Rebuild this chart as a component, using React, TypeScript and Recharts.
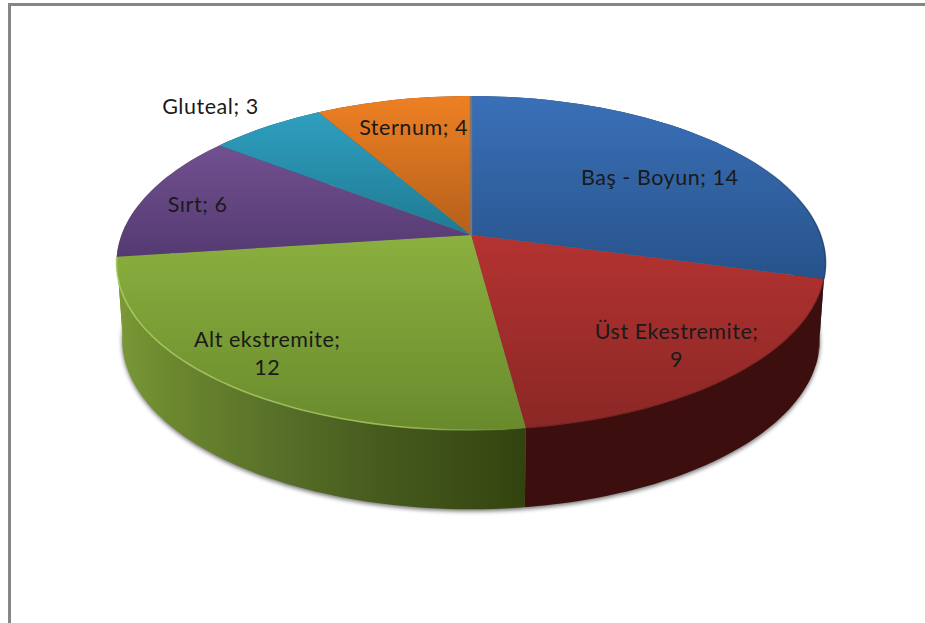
import React from 'react';
import { PieChart, Pie } from 'recharts';

const categories = ['Baş - Boyun', 'Üst Ekestremite', 'Alt ekstremite', 'Sırt', 'Gluteal', 'Sternum'];
const values = [14, 9, 12, 6, 3, 4];

// vertical gradient on the top faces
const topLight = ['#3a70b8', '#b43331', '#8bb03f', '#71508f', '#2f9fc0', '#ee8023'];
const topDark = ['#27538b', '#8a2725', '#698a2c', '#553a72', '#1f7a92', '#b4601b'];
// the purple side only peeks out at the far left, next to the green one
const sideColors = ['#1d3a5e', '#3c0f0e', '#33430f', '#7a9936', '#14505f', '#7a4012'];

// label text is split where it wraps inside the slice
const labelLines: string[][] = [
  ['Baş - Boyun; 14'],
  ['Üst Ekestremite;', '9'],
  ['Alt ekstremite;', '12'],
  ['Sırt; 6'],
  ['Gluteal; 3'],
  ['Sternum; 4'],
];
const labelNudge = [
  [32, -2],
  [56, 31],
  [-65, 34],
  [-76, -6],
  [-132, -61],
  [-8, -22],
];

const slices = categories.map((name, i) => ({ name, value: values[i] }));

const PIE_CX = 471;
const PIE_CY = 235;
const PIE_R = 349.5;
const TILT = 0.4644; // vertical squash of the disc
const PERSPECTIVE = 0.168; // back of the disc looks smaller than the front
const BOTTOM_SCALE = 0.984;
const BOTTOM_SQUASH = 165 / 344;
const BOTTOM_DROP = 76;

const RAD = Math.PI / 180;

// project a point of the flat disc (math degrees, radius) onto the tilted top face
const projectTop = (cx: number, cy: number, radius: number, deg: number, frac = 1) => {
  const u = frac * Math.cos(deg * RAD);
  const v = frac * Math.sin(deg * RAD);
  const w = 1 + PERSPECTIVE * v;
  return [cx + (radius * u) / w, cy - (radius * TILT * v) / w];
};

const projectBottom = (cx: number, cy: number, radius: number, deg: number) => {
  const u = Math.cos(deg * RAD);
  const v = Math.sin(deg * RAD);
  const w = 1 + PERSPECTIVE * v;
  const r = radius * BOTTOM_SCALE;
  return [cx + (r * u) / w, cy + BOTTOM_DROP - (r * BOTTOM_SQUASH * v) / w];
};

const arcPoints = (
  project: (cx: number, cy: number, r: number, d: number) => number[],
  cx: number,
  cy: number,
  r: number,
  from: number,
  to: number,
) => {
  const steps = Math.max(2, Math.ceil(Math.abs(to - from) / 1.5));
  const pts: number[][] = [];
  for (let i = 0; i <= steps; i++) pts.push(project(cx, cy, r, from + ((to - from) * i) / steps));
  return pts;
};

const toPath = (pts: number[][]) =>
  pts.map((p, i) => `${i === 0 ? 'M' : 'L'}${p[0].toFixed(1)},${p[1].toFixed(1)}`).join(' ');

const sliceIndex = (props: any) => categories.indexOf(props.payload?.name ?? props.name);

// soft shadow under the bottom face
const ShadowShape = (props: any) => {
  const { cx, cy, outerRadius, startAngle, endAngle } = props;
  const pts = arcPoints(projectBottom, cx, cy, outerRadius, startAngle, endAngle);
  return <path d={`${toPath([[cx, cy + BOTTOM_DROP], ...pts])} Z`} fill="#000" fillOpacity={0.55} filter="url(#pieShadow)" transform="translate(0 2)" />;
};

const SideShape = (props: any) => {
  const { cx, cy, outerRadius, startAngle, endAngle } = props;
  const i = sliceIndex(props);
  const top = arcPoints(projectTop, cx, cy, outerRadius, startAngle, endAngle);
  const bottom = arcPoints(projectBottom, cx, cy, outerRadius, endAngle, startAngle);
  return <path d={`${toPath([...top, ...bottom])} Z`} fill={`url(#side${i})`} />;
};

const TopShape = (props: any) => {
  const { cx, cy, outerRadius, startAngle, endAngle } = props;
  const i = sliceIndex(props);
  const rim = arcPoints(projectTop, cx, cy, outerRadius, startAngle, endAngle);
  const isLast = Math.abs(endAngle + 270) < 0.01;
  return (
    <g>
      <path d={`${toPath([[cx, cy], ...rim])} Z`} fill={`url(#top${i})`} />
      {i === 0 && <path d={toPath(rim)} fill="none" stroke="url(#blueRim)" strokeWidth={1.6} />}
      {i === 1 && <path d={toPath(rim)} fill="none" stroke="#5a1614" strokeWidth={1.4} strokeOpacity={0.5} />}
      {i === 2 && <path d={toPath(rim)} fill="none" stroke="url(#greenRim)" strokeWidth={1.6} />}
      {isLast && <path d={toPath([[cx, cy], rim[rim.length - 1]])} stroke="#7d7670" strokeWidth={2.4} />}
    </g>
  );
};

const SliceLabel = (props: any) => {
  const { cx, cy, outerRadius, midAngle, index } = props;
  const [px, py] = projectTop(cx, cy, outerRadius, midAngle, 0.6);
  const x = px + labelNudge[index][0];
  const y = py + labelNudge[index][1];
  const lines = labelLines[index];
  const lineHeight = 28.5;
  return (
    <text x={x} y={y - ((lines.length - 1) * lineHeight) / 2} textAnchor="middle" dominantBaseline="central" fontFamily="Lato, sans-serif" fontSize={21.5} letterSpacing={0.55} fill="#1a1a1a">
      {lines.map((line, k) => (
        <tspan key={k} x={x} dy={k === 0 ? 0 : lineHeight}>
          {line}
        </tspan>
      ))}
    </text>
  );
};

export default function App() {
  return (
    <div style={{ position: 'absolute', left: 0, top: 0, width: 925, height: 623, background: '#fff', overflow: 'hidden' }}>
      <div style={{ position: 'absolute', left: 8, top: 3, right: 0, bottom: 0, borderTop: '3px solid #868686', borderLeft: '3px solid #868686' }} />
      <div style={{ position: 'absolute', left: 0, top: 0 }}>
        <PieChart width={925} height={623} margin={{ top: 0, right: 0, bottom: 0, left: 0 }}>
          <defs>
            <filter id="pieShadow" x="-10%" y="-10%" width="120%" height="120%">
              <feGaussianBlur stdDeviation="2.2" />
            </filter>
            {categories.map((_, i) => (
              <linearGradient key={i} id={`top${i}`} x1="0" y1="0" x2="0" y2="1">
                <stop offset="0%" stopColor={topLight[i]} />
                <stop offset="100%" stopColor={topDark[i]} />
              </linearGradient>
            ))}
            {categories.map((_, i) =>
              i === 2 ? (
                <linearGradient key={i} id="side2" x1="0" y1="0" x2="1" y2="0">
                  <stop offset="0%" stopColor="#7a9936" />
                  <stop offset="12%" stopColor="#6d892e" />
                  <stop offset="37%" stopColor="#59722a" />
                  <stop offset="65%" stopColor="#465a1d" />
                  <stop offset="100%" stopColor="#33430f" />
                </linearGradient>
              ) : (
                <linearGradient key={i} id={`side${i}`} x1="0" y1="0" x2="1" y2="0">
                  <stop offset="0%" stopColor={sideColors[i]} />
                  <stop offset="100%" stopColor={sideColors[i]} />
                </linearGradient>
              ),
            )}
            <linearGradient id="greenRim" x1="0" y1="0" x2="1" y2="0">
              <stop offset="0%" stopColor="#abcd66" stopOpacity={0.85} />
              <stop offset="70%" stopColor="#abcd66" stopOpacity={0.75} />
              <stop offset="100%" stopColor="#abcd66" stopOpacity={0} />
            </linearGradient>
            <linearGradient id="blueRim" x1="0" y1="0" x2="1" y2="0">
              <stop offset="0%" stopColor="#1e3f6e" stopOpacity={0} />
              <stop offset="75%" stopColor="#1e3f6e" stopOpacity={0} />
              <stop offset="100%" stopColor="#1e3f6e" stopOpacity={0.8} />
            </linearGradient>
          </defs>
          <Pie data={slices} dataKey="value" nameKey="name" cx={PIE_CX} cy={PIE_CY} outerRadius={PIE_R} startAngle={90} endAngle={-270} stroke="none" shape={ShadowShape} isAnimationActive={false} />
          <Pie data={slices} dataKey="value" nameKey="name" cx={PIE_CX} cy={PIE_CY} outerRadius={PIE_R} startAngle={90} endAngle={-270} stroke="none" shape={SideShape} isAnimationActive={false} />
          <Pie data={slices} dataKey="value" nameKey="name" cx={PIE_CX} cy={PIE_CY} outerRadius={PIE_R} startAngle={90} endAngle={-270} stroke="none" shape={TopShape} label={SliceLabel} labelLine={false} isAnimationActive={false} />
        </PieChart>
      </div>
    </div>
  );
}
